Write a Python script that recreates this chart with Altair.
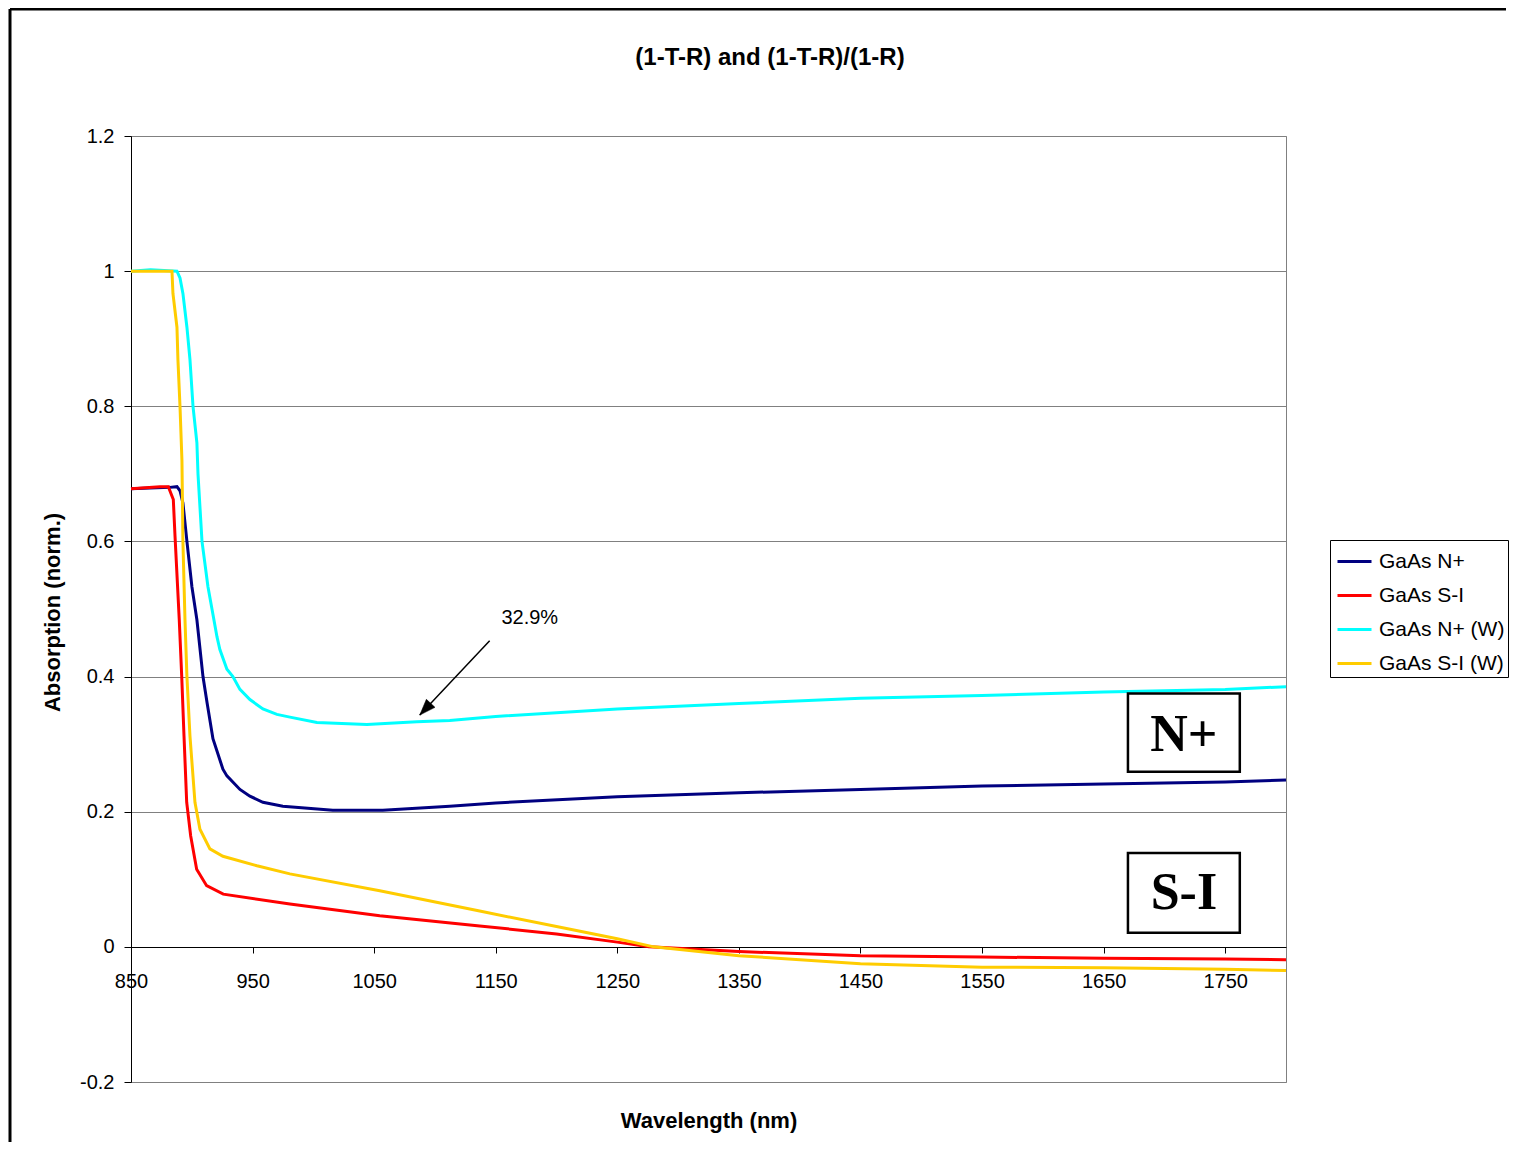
import altair as alt
import pandas as pd

# ---------------- data ----------------
SERIES = ["GaAs N+", "GaAs S-I", "GaAs N+ (W)", "GaAs S-I (W)"]
COLORS = ["#000080", "#FF0000", "#00FFFF", "#FFCC00"]

NP_WL = [850, 865.6, 882, 887.8, 890.3, 892.7, 896, 900.1, 904.2, 909.2, 912.5, 917.4,
         925.6, 928.9, 939.6, 947.8, 958.5, 974.9, 1016, 1057.1, 1112.2, 1150, 1250,
         1350, 1450, 1550, 1650, 1750, 1800]
NP_ABS = [0.678, 0.679, 0.680, 0.681, 0.675, 0.657, 0.600, 0.533, 0.484, 0.400, 0.362, 0.308,
          0.263, 0.253, 0.233, 0.223, 0.214, 0.208, 0.202, 0.202, 0.208, 0.213, 0.222,
          0.228, 0.233, 0.238, 0.241, 0.244, 0.247]

SI_WL = [850, 873.8, 880.7, 884.8, 886.2, 889.7, 891.7, 893.6, 895.8, 899.1, 904, 912.2,
         925.9, 980.7, 1054.6, 1136.8, 1200, 1250, 1276, 1350, 1450, 1550, 1650, 1750, 1800]
SI_ABS = [0.678, 0.681, 0.681, 0.662, 0.608, 0.484, 0.401, 0.312, 0.214, 0.164, 0.115, 0.0905,
          0.078, 0.0635, 0.046, 0.031, 0.019, 0.007, 0.0, -0.007, -0.013, -0.015, -0.017, -0.018, -0.019]

NPW_WL = [850, 866, 887.8, 890.3, 892.7, 896, 898.5, 901, 904.2, 905.1, 908.4, 913.3, 916.6,
          920.7, 923.1, 928.9, 933.8, 939.6, 947.8, 958.5, 970, 980.7, 1002.9, 1044, 1085.1,
          1112.2, 1150, 1250, 1350, 1450, 1550, 1650, 1750, 1800]
NPW_ABS = [1.0, 1.002, 1.0, 0.99, 0.967, 0.917, 0.869, 0.800, 0.746, 0.700, 0.600, 0.533, 0.500,
           0.459, 0.440, 0.411, 0.400, 0.381, 0.366, 0.352, 0.344, 0.340, 0.332, 0.329, 0.333,
           0.335, 0.341, 0.352, 0.360, 0.368, 0.372, 0.377, 0.381, 0.385]

SIW_WL = [850, 883.7, 884.5, 887.8, 888.6, 890.3, 891.9, 892.7, 894.4, 896, 898.5, 902.6,
          906.7, 914.9, 925.6, 953.6, 980.7, 1054.6, 1136.8, 1200, 1250, 1280, 1350, 1450,
          1550, 1650, 1750, 1800]
SIW_ABS = [1.0, 1.0, 0.967, 0.917, 0.869, 0.800, 0.720, 0.600, 0.484, 0.400, 0.312, 0.214,
           0.174, 0.145, 0.134, 0.120, 0.108, 0.083, 0.053, 0.030, 0.012, 0.0, -0.013, -0.025,
           -0.030, -0.031, -0.033, -0.035]

X_TICKS = [850, 950, 1050, 1150, 1250, 1350, 1450, 1550, 1650, 1750]
Y_TICKS = [-0.2, 0, 0.2, 0.4, 0.6, 0.8, 1.0, 1.2]

CHART_TITLE = ["(1-T-R) and (1-T-R)/(1-R)"]

# annotation boxes (N+, S-I)
BOX_LABELS = ["N+", "S-I"]
BOX_X1 = [1670, 1670]
BOX_X2 = [1762, 1762]
BOX_Y1 = [0.375, 0.139]
BOX_Y2 = [0.259, 0.021]
BOX_TX = [1716, 1716]
BOX_TY = [0.313, 0.080]

# arrow annotation "32.9%"
ARROW_X1 = [1145]
ARROW_Y1 = [0.453]
ARROW_X2 = [1087.5]
ARROW_Y2 = [0.343]
NOTE_TEXT = ["32.9%"]
NOTE_X = [1178]
NOTE_Y = [0.486]

FONT = "Liberation Sans"

# ---------------- build tables ----------------
rows = []
for name, xs, ys in zip(SERIES, [NP_WL, SI_WL, NPW_WL, SIW_WL], [NP_ABS, SI_ABS, NPW_ABS, SIW_ABS]):
    for i, (xv, yv) in enumerate(zip(xs, ys)):
        rows.append({"series": name, "wl": xv, "abs": yv, "idx": i})
df = pd.DataFrame(rows)

boxes = pd.DataFrame({"label": BOX_LABELS, "x1": BOX_X1, "x2": BOX_X2, "y1": BOX_Y1,
                      "y2": BOX_Y2, "tx": BOX_TX, "ty": BOX_TY})
arrow = pd.DataFrame({"x1": ARROW_X1, "y1": ARROW_Y1, "x2": ARROW_X2, "y2": ARROW_Y2})
note = pd.DataFrame({"text": NOTE_TEXT, "x": NOTE_X, "y": NOTE_Y})
title_df = pd.DataFrame({"t": CHART_TITLE})

x_scale = alt.Scale(domain=[850, 1800], nice=False, zero=False)
y_scale = alt.Scale(domain=[-0.2, 1.2], nice=False, zero=False)

x_axis = alt.Axis(
    title="Wavelength (nm)", values=X_TICKS, format="d", grid=False,
    offset=-135, domainColor="black", domainWidth=1, tickColor="black", tickSize=6,
    labelPadding=18, labelFont=FONT, labelFontSize=20, labelColor="black",
    labelFlush=False, labelOverlap=False,
    titleFont=FONT, titleFontSize=22, titleFontWeight="bold", titleColor="black",
    titleY=173, titleBaseline="middle",
)
y_axis = alt.Axis(
    title="Absorption (norm.)", values=Y_TICKS,
    labelExpr="datum.value < 0 ? '-' + format(-datum.value, '~g') : format(datum.value, '~g')",
    grid=True, gridColor="#808080", gridWidth=1,
    domainColor="black", domainWidth=1, tickColor="black", tickSize=7,
    labelPadding=10, labelFont=FONT, labelFontSize=20, labelColor="black",
    titleFont=FONT, titleFontSize=22, titleFontWeight="bold", titleColor="black",
    titleX=-79, titleY=476, titleBaseline="middle",
)

lines = alt.Chart(df).mark_line(strokeWidth=3).encode(
    x=alt.X("wl:Q", scale=x_scale, axis=x_axis),
    y=alt.Y("abs:Q", scale=y_scale, axis=y_axis),
    color=alt.Color(
        "series:N",
        scale=alt.Scale(domain=SERIES, range=COLORS),
        sort=SERIES,
        legend=alt.Legend(
            title=None, orient="none", legendX=1199, legendY=404,
            symbolType="stroke", symbolSize=1156, symbolStrokeWidth=3,
            labelFont=FONT, labelFontSize=21, labelColor="black", labelOffset=6,
            symbolOffset=3, padding=3, rowPadding=5,
            strokeColor="black", fillColor="white",
        ),
    ),
    order="idx:Q",
)

rects = alt.Chart(boxes).mark_rect(fill="white", stroke="black", strokeWidth=2.5).encode(
    x=alt.X("x1:Q", scale=x_scale),
    x2="x2:Q",
    y=alt.Y("y1:Q", scale=y_scale),
    y2="y2:Q",
)
box_text = alt.Chart(boxes).mark_text(
    font="Liberation Serif", fontSize=52, fontWeight="bold", color="black",
    align="center", baseline="middle",
).encode(
    x=alt.X("tx:Q", scale=x_scale),
    y=alt.Y("ty:Q", scale=y_scale),
    text="label:N",
)

arrow_line = alt.Chart(arrow).mark_rule(color="black", strokeWidth=1.5).encode(
    x=alt.X("x1:Q", scale=x_scale),
    y=alt.Y("y1:Q", scale=y_scale),
    x2="x2:Q",
    y2="y2:Q",
)
arrow_head = alt.Chart(arrow).mark_point(
    shape="M0,0 L-0.55,1.5 L0.55,1.5 Z", filled=True, fill="black", stroke="black",
    strokeWidth=0.5, size=457, angle=223, opacity=1,
).encode(
    x=alt.X("x2:Q", scale=x_scale),
    y=alt.Y("y2:Q", scale=y_scale),
)
note_text = alt.Chart(note).mark_text(
    font=FONT, fontSize=20, color="black", align="center", baseline="middle",
).encode(
    x=alt.X("x:Q", scale=x_scale),
    y=alt.Y("y:Q", scale=y_scale),
    text="text:N",
)

# chart title (placed above the plot area, centred on the whole chart like the original)
title_text = alt.Chart(title_df).mark_text(
    font=FONT, fontSize=24, fontWeight="bold", color="black", align="center", baseline="middle",
).encode(
    x=alt.value(639), y=alt.value(-78), text="t:N"
)

# decorative outer frame (top and left edges of the slide frame)
frame_left = alt.Chart(note).mark_rule(color="black", strokeWidth=3).encode(
    x=alt.value(-121), y=alt.value(-127), y2=alt.value(1010)
)
frame_top = alt.Chart(note).mark_rule(color="black", strokeWidth=3).encode(
    x=alt.value(-121), x2=alt.value(1375), y=alt.value(-127)
)

chart = alt.layer(
    lines, rects, box_text, arrow_line, arrow_head, note_text, title_text,
    frame_left, frame_top
).properties(
    width=1155,
    height=946,
    autosize=alt.AutoSizeParams(type="none"),
    padding={"left": 123, "top": 128, "right": 225, "bottom": 60},
    background="white",
).configure_view(
    stroke="#808080", strokeWidth=1
)

chart.save("out.html", embed_options={"renderer": "svg", "actions": False})
